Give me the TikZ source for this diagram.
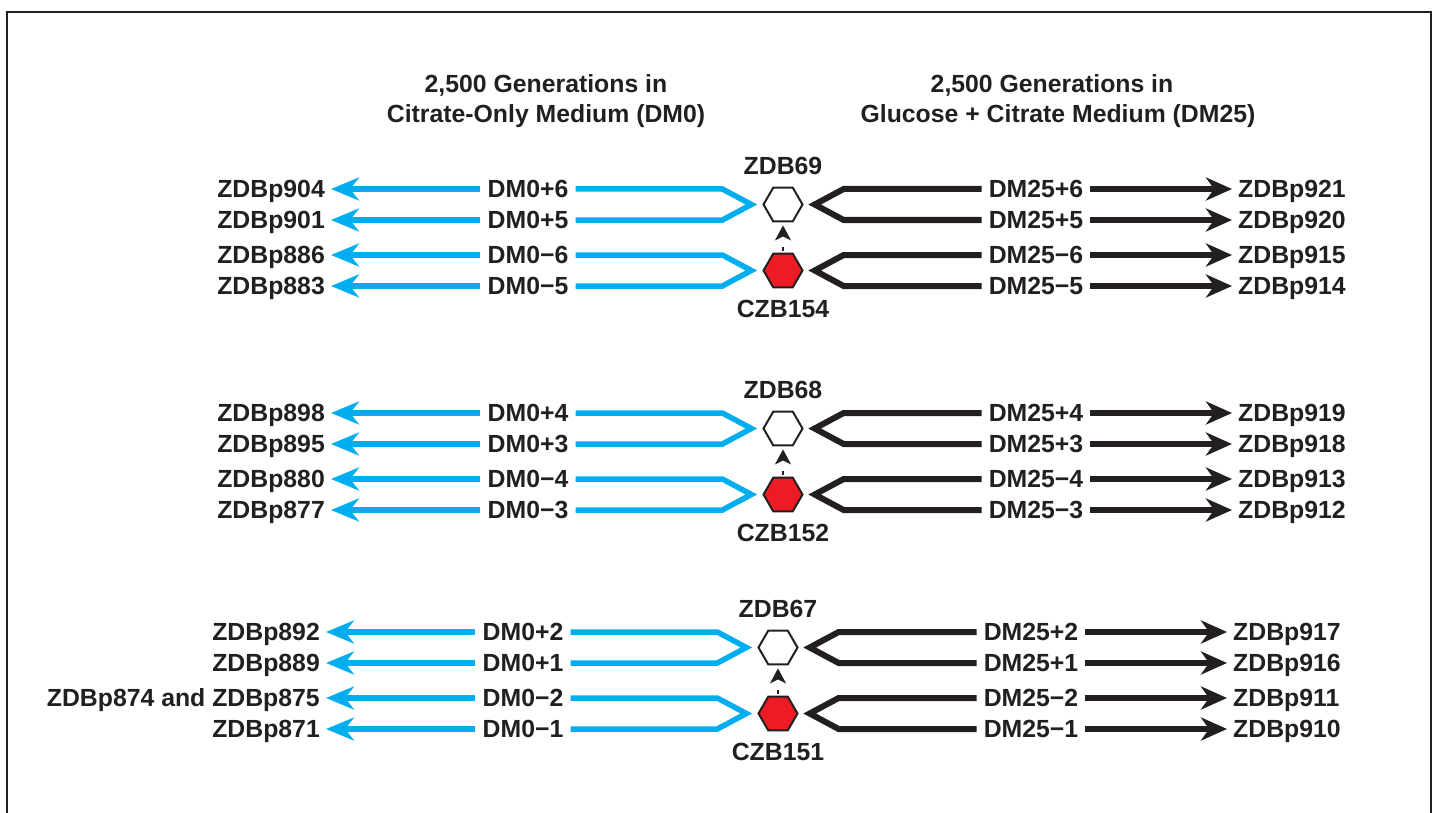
\documentclass[tikz,border=0pt]{standalone}
\usepackage{xcolor}
\usepackage{fontspec}
\setmainfont{Liberation Sans}
\usepackage{tikz}
\usetikzlibrary{shapes,arrows.meta,positioning,calc}
\definecolor{ink}{RGB}{35, 31, 32}
\definecolor{citrate}{RGB}{0, 174, 239}
\definecolor{ancestor}{RGB}{237, 28, 36}

\begin{document}
\begin{tikzpicture}[x=1pt, y=-1pt,
    font=\fontsize{24.8}{30}\selectfont\bfseries, text=ink,
    tag/.style={inner xsep=7pt, inner ysep=2pt, text height=17.8pt, text depth=0pt},
    clone/.style={inner xsep=6pt, inner ysep=2pt, text height=17.8pt, text depth=0pt},
    strain/.style={inner sep=0pt},
    hexcell/.style={regular polygon, regular polygon sides=6, minimum size=39pt, inner sep=0pt, line width=2pt, draw=ink},
    cit/.style={citrate, line width=5.5pt},
    glc/.style={ink, line width=6pt},
    anc/.style={ink, line width=2pt, dash pattern=on 4pt off 20pt, shorten <=2pt, shorten >=3pt,
        -{Stealth[length=15pt, width=16pt, inset=4pt]}}]
    \useasboundingbox (0,0) rectangle (1437,813);
    \draw[ink, line width=1.5pt] (7,813) -- (7,12) -- (1431,12) -- (1431,813);
    \node[align=center] (hcit) at (546,101) {2,500 Generations in\\Citrate-Only Medium (DM0)};
    \node[align=center] (hglc) at (1058,101) {2,500 Generations in\hspace*{12pt}\\Glucose + Citrate Medium (DM25)};

    \foreach \y/\s/\t/\l/\r [count=\i] in {
        189/0/+6/ZDBp904/ZDBp921, 220/0/+5/ZDBp901/ZDBp920,
        255/0/−6/ZDBp886/ZDBp915, 286/0/−5/ZDBp883/ZDBp914,
        413/0/+4/ZDBp898/ZDBp919, 444/0/+3/ZDBp895/ZDBp918,
        479/0/−4/ZDBp880/ZDBp913, 510/0/−3/ZDBp877/ZDBp912,
        632/-5/+2/ZDBp892/ZDBp917, 663/-5/+1/ZDBp889/ZDBp916,
        698/-5/−2/{ZDBp874 and ZDBp875}/ZDBp911, 729/-5/−1/ZDBp871/ZDBp910} {
        \node[tag] (m\i) at (528+\s,\y) {DM0\t};
        \node[tag] (n\i) at (1036+\s,\y) {DM25\t};
        \node[clone, anchor=east] (l\i) at (331+\s,\y) {\l};
        \node[clone, anchor=west] (r\i) at (1232+\s,\y) {\r};
        \draw[cit, -{Stealth[length=28pt, width=23pt, inset=9pt]}] (m\i.west) -- (l\i.east);
        \draw[glc, -{Stealth[length=26pt, width=23pt, inset=8pt]}] (n\i.east) -- (r\i.west);
    }

    \foreach \p/\q/\u/\v/\y/\s/\w/\c in {1/2/3/4/189/0/69/154, 5/6/7/8/413/0/68/152, 9/10/11/12/632/-5/67/151} {
        \node[hexcell, fill=white] (w\w) at (783+\s,\y+15.5) {};
        \node[hexcell, fill=ancestor] (c\c) at (783+\s,\y+81.5) {};
        \node[strain, above=12pt of w\w] (zw\w) {ZDB\w};
        \node[strain, below=12pt of c\c] (zc\c) {CZB\c};
        \draw[anc] (c\c) -- (w\w);
        \coordinate (tw) at ([xshift=-11pt]w\w.west);
        \coordinate (tc) at ([xshift=-11pt]c\c.west);
        \coordinate (gw) at ([xshift=11pt]w\w.east);
        \coordinate (gc) at ([xshift=11pt]c\c.east);
        \draw[cit] (m\p.east) -- ($(tw |- m\p.east)+(-29,0)$) -- (tw) -- ($(tw |- m\q.east)+(-29,0)$) -- (m\q.east);
        \draw[cit] (m\u.east) -- ($(tc |- m\u.east)+(-29,0)$) -- (tc) -- ($(tc |- m\v.east)+(-29,0)$) -- (m\v.east);
        \draw[glc] (n\p.west) -- ($(gw |- n\p.west)+(29,0)$) -- (gw) -- ($(gw |- n\q.west)+(29,0)$) -- (n\q.west);
        \draw[glc] (n\u.west) -- ($(gc |- n\u.west)+(29,0)$) -- (gc) -- ($(gc |- n\v.west)+(29,0)$) -- (n\v.west);
    }
\end{tikzpicture}
\end{document}
